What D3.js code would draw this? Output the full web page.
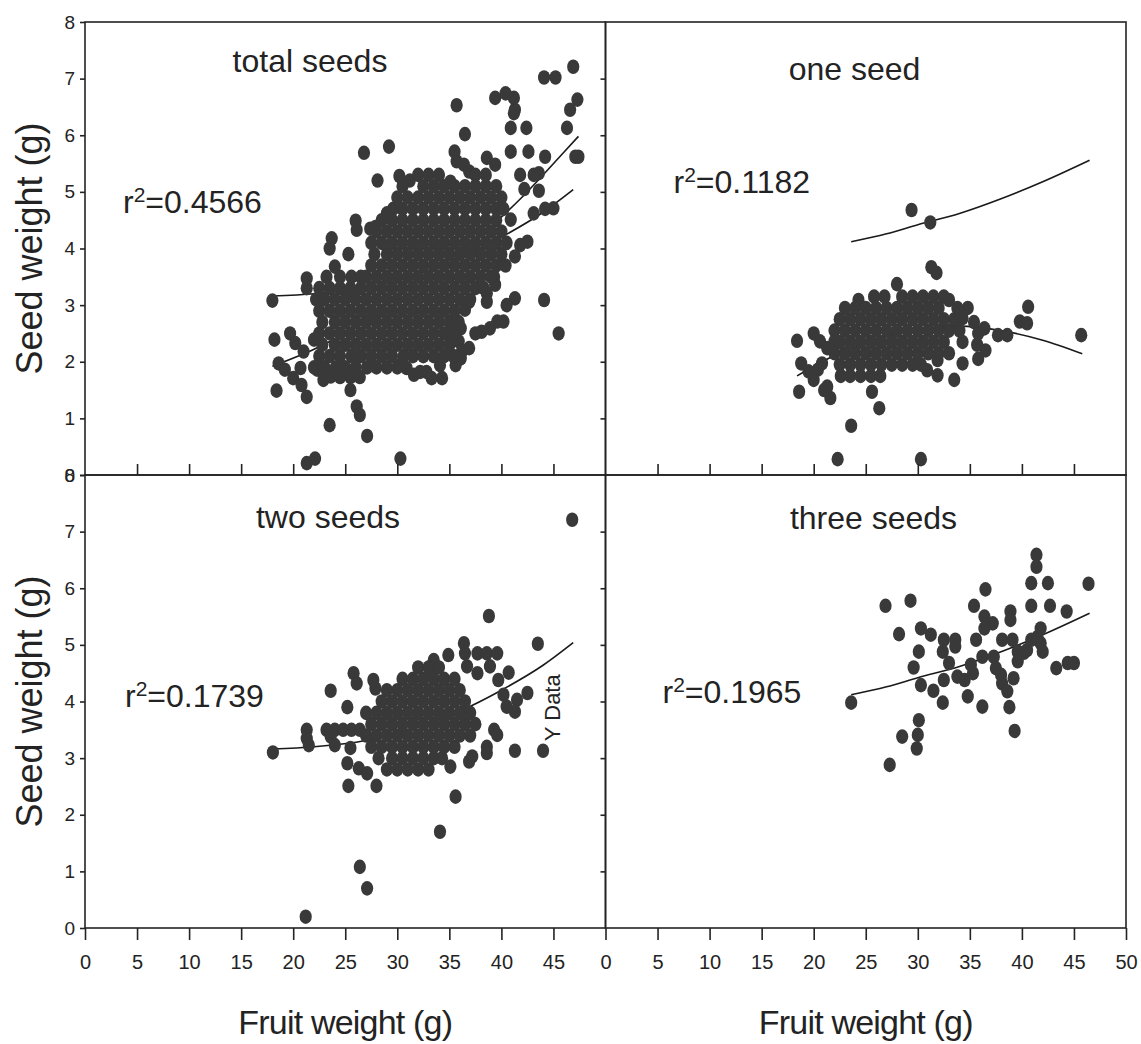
<!DOCTYPE html>
<html>
<head>
<meta charset="utf-8">
<script src="https://cdnjs.cloudflare.com/ajax/libs/d3/7.8.5/d3.min.js"></script>
<style>
body { margin: 0; background: #fff; }
svg { font-family: "Liberation Sans", Arial, sans-serif; }
</style>
</head>
<body>
<div id="canvas"></div>
<script>
// ---- tick values / labels ----
const xTicksLeft = [0, 5, 10, 15, 20, 25, 30, 35, 40, 45];
const xTicksRight = [0, 5, 10, 15, 20, 25, 30, 35, 40, 45, 50];
const xTicksInner = [5, 10, 15, 20, 25, 30, 35, 40, 45];
const yTicks = [0, 1, 2, 3, 4, 5, 6, 7, 8];
const yTicksInner = [1, 2, 3, 4, 5, 6, 7];
const panelTitles = ['total seeds', 'one seed', 'two seeds', 'three seeds'];
const r2Values = ['0.4566', '0.1182', '0.1739', '0.1965'];

// ---- total seeds: scattered points + dense rows [y, [x...]] ----
const totalPts = [
  [18.0,3.08],[18.2,2.39],[18.6,1.97],[18.4,1.49],
  [19.7,2.5],[20.2,2.33],[21.0,2.18],[19.2,1.86],[20.0,1.71],[20.7,1.89],[20.8,1.59],[21.3,1.38],[22.0,2.39],
  [23.5,0.88],[27.1,0.69],[21.3,0.21],[22.1,0.29],[30.3,0.29],
  [25.5,1.5],[26.1,1.21],[26.4,1.06],
  [22.3,1.86],[22.9,1.68],[23.6,1.74],[24.5,1.73],[25.5,1.73],[26.4,1.73],
  [21.3,3.47],[21.3,3.3],[23.2,3.5],[24.5,3.5],[25.6,3.5],[26.5,3.5],[25.5,3.21],
  [24.0,3.68],[25.3,3.9],[23.5,4.0],[23.7,4.18],[26.1,4.33],[26.0,4.49],[27.4,4.35],[27.9,4.38],[29.0,4.62],
  [28.1,5.2],[26.8,5.69],[29.2,5.8],
  [30.2,5.28],[31.2,5.2],[35.1,5.18],[35.7,5.54],[36.4,5.48],[36.9,5.36],[38.6,5.6],[39.4,5.48],
  [35.5,5.71],[36.5,6.02],[35.7,6.53],
  [39.4,6.66],[40.4,6.74],[41.2,6.66],[41.3,6.45],[41.2,6.39],[40.9,6.13],[42.4,6.13],
  [44.1,7.02],[45.2,7.02],[46.9,7.21],[47.3,6.63],[46.6,6.45],[46.3,6.13],[47.1,5.62],[47.4,5.62],
  [40.9,5.71],[42.6,5.71],[44.2,5.62],[43.6,5.33],[43.1,5.3],[41.8,5.3],[42.2,5.05],[43.6,5.02],
  [43.1,4.62],[44.2,4.7],[45.0,4.71],[40.9,4.51],
  [42.5,4.12],[41.8,4.06],[41.3,3.86],[44.1,3.09],[45.5,2.5],
  [41.3,3.12],[40.5,3.0],[40.2,2.71],[39.6,2.71],[38.9,2.59],[38.1,2.53],[37.5,2.5],
  [39.3,3.5],[39.4,3.36],[38.6,3.21],[38.6,3.06],[36.9,3.06],[36.5,2.92],
  [36.1,2.59],[35.9,2.36],[36.2,2.18],[36.9,2.24],[36.1,2.06],[35.6,1.94],
  [34.1,1.94],[34.3,1.71],[33.3,1.71],[32.8,1.82],[32.2,1.82],[31.6,1.77],[30.9,1.89],[30.3,1.94]
];
const totalRows = [
  [1.9, [22.0,23.0,24.1,25.0,26.0,27.1,28.0,29.0,30.0]],
  [2.1, [22.5,23.5,24.5,25.6,26.5,27.5,28.5,29.5,30.6,31.5,32.5,33.5,34.5,35.4]],
  [2.3, [22.8,24.0,25.0,26.0,27.0,28.0,29.0,30.0,31.0,32.0,33.0,34.0,35.0]],
  [2.5, [22.5,23.5,24.5,25.5,26.5,27.5,28.5,29.5,30.5,31.5,32.5,33.5,34.5,35.3]],
  [2.7, [22.8,24.0,25.0,26.0,27.0,28.0,29.0,30.0,31.0,32.0,33.0,34.0,35.0,35.9]],
  [2.9, [22.5,23.5,24.5,25.5,26.5,27.5,28.5,29.5,30.5,31.5,32.5,33.5,34.5,35.5]],
  [3.1, [22.2,23.0,24.0,25.0,26.0,27.0,28.0,29.0,30.0,31.0,32.0,33.0,34.0,35.0,36.0,37.0]],
  [3.3, [22.5,23.5,24.5,25.5,26.5,27.5,28.5,29.5,30.5,31.5,32.5,33.5,34.5,35.5,36.5,37.5,38.3]],
  [3.5, [27.0,28.0,29.0,30.0,31.0,32.0,33.0,34.0,35.0,36.0,37.0,38.0,39.0]],
  [3.7, [27.5,28.5,29.5,30.5,31.5,32.5,33.5,34.5,35.5,36.5,37.5,38.5,39.5,40.4]],
  [3.9, [27.8,29.0,30.0,31.0,32.0,33.0,34.0,35.0,36.0,37.0,38.0,39.0,40.0]],
  [4.1, [27.5,28.5,29.5,30.5,31.5,32.5,33.5,34.5,35.5,36.5,37.5,38.5,39.5,40.5]],
  [4.3, [28.0,29.0,30.0,31.0,32.0,33.0,34.0,35.0,36.0,37.0,38.0,39.0,40.0]],
  [4.5, [28.5,29.5,30.5,31.5,32.5,33.5,34.5,35.5,36.5,37.5,38.5,39.5]],
  [4.7, [29.6,30.5,31.5,32.5,33.5,34.5,35.5,36.5,37.5,38.5,39.5,40.2]],
  [4.9, [30.0,31.0,32.0,33.0,34.0,35.0,36.0,37.0,38.0,39.0,40.0]],
  [5.1, [30.5,32.5,33.5,34.5,35.5,36.5,37.5,38.5,39.5]],
  [5.3, [32.0,33.0,34.0,37.5,38.5]]
];

// ---- one seed ----
const oneSeedPts = [
  [29.4,4.68],[31.2,4.46],[31.3,3.67],[31.8,3.57],[28.0,3.37],[24.3,3.09],
  [18.4,2.37],[20.0,2.5],[20.6,2.36],[21.3,2.24],[22.0,2.36],[18.8,1.97],[19.5,1.83],[20.4,1.86],[20.8,1.97],
  [20.0,1.68],[21.3,1.56],[21.6,1.36],[21.0,1.5],[18.6,1.47],
  [23.6,0.87],[22.3,0.28],[30.3,0.28],[26.3,1.18],[25.6,1.47],
  [35.4,2.7],[35.8,2.5],[35.7,2.3],[35.8,2.05],[36.5,2.2],[36.4,2.59],[37.7,2.47],[38.6,2.47],
  [39.8,2.71],[40.5,2.68],[40.6,2.97],[45.7,2.47],
  [34.3,2.77],[33.5,1.68],[34.3,1.97],[31.9,2.03],[30.9,1.85],[31.9,1.76],[33.0,3.09],[34.8,2.95]
];
const oneSeedRows = [
  [1.75, [22.6,23.5,24.5,25.5,26.4]],
  [1.95, [22.5,23.5,24.5,25.5,26.5,27.5,28.5,29.5,30.3]],
  [2.15, [22.0,23.0,24.0,25.0,26.0,27.0,28.0,29.0,30.0,31.0,32.0,33.0]],
  [2.35, [22.5,23.5,24.5,25.5,26.5,27.5,28.5,29.5,30.5,31.5,32.5,34.3]],
  [2.55, [22.0,23.0,24.0,25.0,26.0,27.0,28.0,29.0,30.0,31.0,32.0,33.0,34.0]],
  [2.75, [22.5,23.5,24.5,25.5,26.5,27.5,28.5,29.5,30.5,31.5,32.5,33.5]],
  [2.95, [23.0,24.0,25.0,26.0,27.0,28.0,29.0,30.0,31.0,32.0,33.8]],
  [3.15, [25.8,26.8,28.5,29.5,30.5,31.5,32.5]]
];

// ---- two seeds ----
const twoSeedPts = [
  [46.8,7.21],[38.8,5.51],[43.5,5.02],[18.05,3.10],[21.3,3.5],[21.3,3.35],[21.5,3.23],[23.6,4.19],[25.2,3.9],
  [23.2,3.5],[24.0,3.5],[24.8,3.5],[25.6,3.5],[26.4,3.5],[23.6,3.38],[24.0,3.23],[25.5,3.18],
  [25.2,2.91],[26.3,2.82],[27.1,2.73],[25.3,2.51],[28.0,2.51],
  [25.8,4.5],[26.1,4.32],[27.7,4.38],[27.9,4.23],
  [35.6,2.32],[34.1,1.7],[26.4,1.08],[27.1,0.7],[21.2,0.2],
  [41.3,3.13],[44.0,3.13],[40.7,4.51],[42.5,4.15],[41.5,4.03],[41.3,3.82],
  [39.3,3.5],[39.6,3.41],[38.6,3.2],[38.6,3.09],[37.2,3.03],[36.9,2.94],[35.1,2.85],
  [36.4,5.03],[34.9,4.82],[33.5,4.73],[33.3,4.56],
  [36.5,4.85],[37.7,4.85],[38.6,4.85],[39.6,4.85],[36.7,4.62],[37.7,4.5],[38.9,4.62],[39.7,4.38],[40.2,4.12],[40.5,3.91]
];
const twoSeedRows = [
  [2.8, [29.0,30.0,31.0,32.0,33.0]],
  [3.0, [28.2,29.5,30.5,31.5,32.5,33.5,34.3]],
  [3.2, [27.5,28.5,29.5,30.5,31.5,32.5,33.5,34.5,35.5]],
  [3.4, [27.0,28.0,29.0,30.0,31.0,32.0,33.0,34.0,35.0,36.0,37.0]],
  [3.6, [27.5,28.5,29.5,30.5,31.5,32.5,33.5,34.5,35.5,36.5,37.5]],
  [3.8, [27.0,28.0,29.0,30.0,31.0,32.0,33.0,34.0,35.0,36.0,37.0]],
  [4.0, [28.5,29.5,30.5,31.5,32.5,33.5,34.5,35.5,36.5]],
  [4.2, [29.0,30.0,31.0,32.0,33.0,34.0,35.0,36.0]],
  [4.4, [30.5,31.5,32.5,33.5,34.5,35.5]],
  [4.6, [32.0,33.0,34.0]]
];

// ---- three seeds ----
const threeSeedPts = [
  [23.6,3.98],[26.9,5.69],[29.3,5.78],[28.2,5.19],[30.3,5.29],[31.25,5.18],[30.1,4.88],[29.6,4.6],
  [30.3,4.29],[31.5,4.19],[32.4,3.98],[30.1,3.67],[28.5,3.38],[30.0,3.41],[29.9,3.17],[27.3,2.88],
  [32.5,5.09],[33.6,5.09],[32.4,4.88],[33.6,4.97],[33.0,4.68],[32.5,4.38],[33.8,4.44],[34.8,4.09],
  [34.5,4.38],[35.1,4.65],[35.6,5.09],[35.4,5.69],[36.5,5.98],[36.4,5.5],[37.2,5.38],[36.4,5.29],
  [36.2,4.79],[37.3,4.79],[37.5,4.59],[38.0,4.47],[35.3,4.5],[36.2,3.91],[38.1,4.32],[38.6,4.18],
  [38.8,3.9],[39.3,3.48],[39.2,4.41],[38.1,5.09],[38.9,5.59],[38.9,5.44],[39.1,5.09],[39.6,4.88],
  [39.6,4.71],[40.5,4.91],[40.9,5.09],[41.8,5.29],[41.8,5.03],[42.0,4.88],[40.9,5.69],[40.9,6.09],
  [41.4,6.59],[41.4,6.38],[42.5,6.09],[42.7,5.69],[44.3,5.59],[43.3,4.59],[44.4,4.68],[45.0,4.68],
  [46.4,6.08],[40.2,4.86],[41.5,5.14]
];

// ---- fitted curves ----
const fitTwoSeeds = [[18,3.16],[22,3.2],[27,3.31],[32,3.55],[36,3.83],[40,4.2],[44,4.64],[46.9,5.04]];
const fitTotal = [[18,1.92],[22,2.22],[26,2.6],[30,3.06],[34,3.59],[38,4.22],[42,4.91],[46,5.7],[47.4,5.98]];
const fitOneSeed = [[18.4,1.75],[22,2.11],[26,2.4],[30,2.58],[34,2.63],[38,2.55],[42,2.38],[45.8,2.14]];
const fitThreeSeeds = [[23.6,4.12],[27,4.26],[30,4.42],[34,4.62],[38,4.88],[42,5.18],[46.5,5.56]];

function unrow(rows) { return rows.flatMap(r => r[1].map(v => [v, r[0]])); }

const W = 1141, H = 1044, M = {t: 22, r: 15, b: 116, l: 85};
const pw = (W - M.l - M.r) / 2, ph = (H - M.t - M.b) / 2;

const x = d3.scaleLinear().domain([0, 50]).range([0, pw]);
const y = d3.scaleLinear().domain([0, 8]).range([ph, 0]);
const line = d3.line().x(d => x(d[0])).y(d => y(d[1])).curve(d3.curveMonotoneX);

const panels = [
  {col: 0, row: 0, pts: totalPts.concat(unrow(totalRows)), fits: [fitTwoSeeds, fitTotal]},
  {col: 1, row: 0, pts: oneSeedPts.concat(unrow(oneSeedRows)), fits: [fitThreeSeeds, fitOneSeed]},
  {col: 0, row: 1, pts: twoSeedPts.concat(unrow(twoSeedRows)), fits: [fitTwoSeeds]},
  {col: 1, row: 1, pts: threeSeedPts, fits: [fitThreeSeeds]}
];
// text placement inside each panel (title centre/baseline, r2 start/baseline)
const place = [
  {tx: 225, ty: 50, rx: 38, ry: 191},
  {tx: 249, ty: 58, rx: 68, ry: 171},
  {tx: 243, ty: 53, rx: 40, ry: 232},
  {tx: 268, ty: 54, rx: 57, ry: 228}
];

const ink = '#232323';
const svg = d3.select('#canvas').append('svg').attr('width', W).attr('height', H);

panels.forEach((p, i) => {
  const g = svg.append('g')
    .attr('transform', 'translate(' + (M.l + p.col * pw) + ',' + (M.t + p.row * ph) + ')');

  g.selectAll('path.fit').data(p.fits).enter().append('path')
    .attr('class', 'fit')
    .attr('d', line)
    .attr('fill', 'none')
    .attr('stroke', '#1a1a1a')
    .attr('stroke-width', 1.6);

  g.selectAll('ellipse').data(p.pts).enter().append('ellipse')
    .attr('cx', d => x(d[0]))
    .attr('cy', d => y(d[1]))
    .attr('rx', 6.1)
    .attr('ry', 7.3)
    .attr('fill', '#393939');

  g.append('rect')
    .attr('width', pw).attr('height', ph)
    .attr('fill', 'none').attr('stroke', ink).attr('stroke-width', 1.6);

  // x axis
  let xa;
  if (p.row === 1) {
    xa = d3.axisBottom(x).tickValues(p.col === 0 ? xTicksLeft : xTicksRight).tickSize(12).tickPadding(15);
  } else {
    xa = d3.axisTop(x).tickValues(xTicksInner).tickSize(11).tickFormat('');
  }
  g.append('g').attr('class', 'x axis').attr('transform', 'translate(0,' + ph + ')').call(xa);

  // y axis
  let ya = p.col === 0
    ? d3.axisLeft(y).tickValues(yTicks).tickSize(5).tickPadding(5)
    : d3.axisLeft(y).tickValues(yTicksInner).tickSize(5).tickFormat('');
  g.append('g').attr('class', 'y axis').call(ya);

  g.selectAll('.axis .domain').remove();
  g.selectAll('.axis line').attr('stroke', ink).attr('stroke-width', 1.6);
  g.selectAll('.x.axis text').attr('font-size', 20).attr('fill', ink);
  g.selectAll('.y.axis text').attr('font-size', 19).attr('fill', ink);
  g.selectAll('.axis').attr('font-family', null);

  g.append('text')
    .attr('x', place[i].tx).attr('y', place[i].ty)
    .attr('text-anchor', 'middle')
    .attr('font-size', 32).attr('fill', ink)
    .text(panelTitles[i]);

  const r2 = g.append('text')
    .attr('x', place[i].rx).attr('y', place[i].ry)
    .attr('font-size', 32).attr('fill', ink);
  r2.append('tspan').text('r');
  r2.append('tspan').attr('font-size', 21).attr('dy', -11).text('2');
  r2.append('tspan').attr('dy', 11).text('=' + r2Values[i]);

  if (i === 2) {
    g.append('text')
      .attr('transform', 'translate(' + (x(45.6)) + ',' + (y(3.3)) + ') rotate(-90)')
      .attr('font-size', 22).attr('fill', ink)
      .text('Y Data');
  }
});

// axis titles
[0, 1].forEach(r => {
  svg.append('text')
    .attr('transform', 'translate(42,' + (M.t + r * ph + ph / 2) + ') rotate(-90)')
    .attr('text-anchor', 'middle')
    .attr('font-size', 36).attr('fill', ink)
    .text('Seed weight (g)');
});
[0, 1].forEach(c => {
  svg.append('text')
    .attr('x', M.l + c * pw + pw / 2).attr('y', 1034)
    .attr('text-anchor', 'middle')
    .attr('font-size', 34).attr('letter-spacing', -0.8).attr('fill', ink)
    .text('Fruit weight (g)');
});
</script>
</body>
</html>
